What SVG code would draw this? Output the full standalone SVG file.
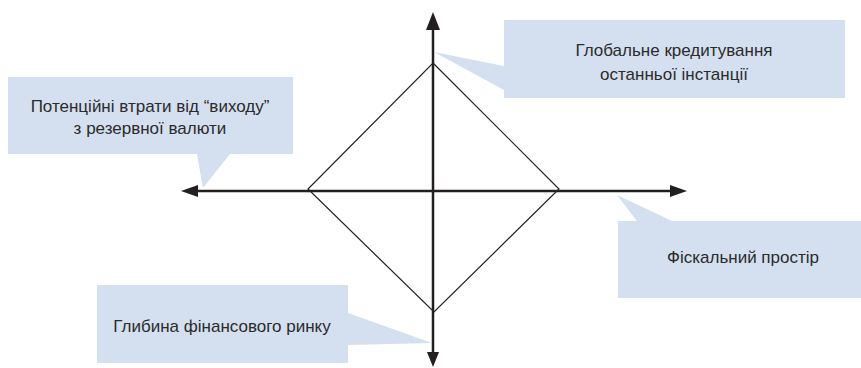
<svg xmlns="http://www.w3.org/2000/svg" width="861" height="368" viewBox="0 0 861 368">
<style>
.callout{fill:#d4dff0;stroke:none}
.lbl{font-family:"Liberation Sans",Arial,sans-serif;font-size:17px;fill:#2b2b2b;text-anchor:middle}
.axis{stroke:#231f20;stroke-width:2.5;fill:none}
.dia{stroke:#231f20;stroke-width:1.2;fill:none}
.head{fill:#231f20}
</style>
<rect width="861" height="368" fill="#fff"/>
<g id="node-global-lending">
<path class="callout" d="M504,20 H845 V98 H504 V90 L434,52 L504,66 Z"/>
<text class="lbl" x="674" y="56">Глобальне кредитування</text>
<text class="lbl" x="674" y="80">останньої інстанції</text>
</g>
<g id="node-reserve-currency">
<path class="callout" d="M8,77 H293 V154 H230 L203,188 L197,154 H8 Z"/>
<text class="lbl" x="150" y="112">Потенційні втрати від “виходу”</text>
<text class="lbl" x="150" y="134">з резервної валюти</text>
</g>
<g id="node-fiscal-space">
<path class="callout" d="M618,221 H637 L617,195 L672,221 H861 V298 H618 Z"/>
<text class="lbl" x="743" y="263">Фіскальний простір</text>
</g>
<g id="node-market-depth">
<path class="callout" d="M97,285 H348 V313 L432,343 L348,345 V363 H97 Z"/>
<text class="lbl" x="222" y="332">Глибина фінансового ринку</text>
</g>
<g id="connectors">
<path class="dia" d="M433,63 L559,189 L434,312 L308,189 Z"/>
<line class="axis" x1="197" y1="191" x2="671" y2="191"/>
<line class="axis" x1="433" y1="29" x2="433" y2="354"/>
<polygon class="head" points="181,191 198,185 198,197"/>
<polygon class="head" points="687,191 670,185 670,197"/>
<polygon class="head" points="433,12 426,30 440,30"/>
<polygon class="head" points="433,367 427,352 439,352"/>
</g>
</svg>
